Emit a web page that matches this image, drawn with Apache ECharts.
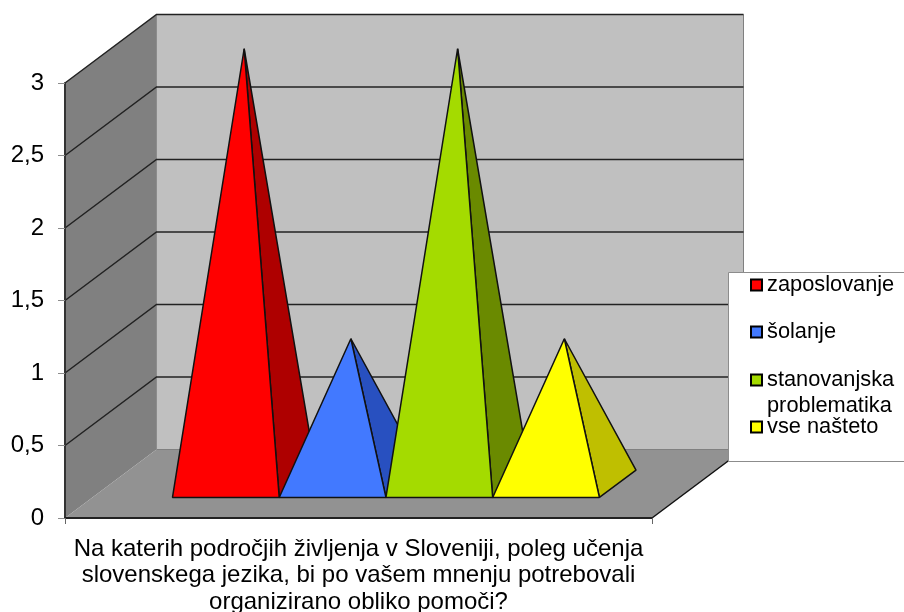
<!DOCTYPE html>
<html>
<head>
<meta charset="utf-8">
<style>html,body{margin:0;padding:0;background:#fff}#chart{width:904px;height:612px}</style>
<script src="https://cdn.jsdelivr.net/npm/echarts@6/dist/echarts.min.js"></script>
</head>
<body>
<div id="chart"></div>
<script>
// Chart content
const categories = ['Na katerih področjih življenja v Sloveniji, poleg učenja\nslovenskega jezika, bi po vašem mnenju potrebovali\norganizirano obliko pomoči?'];
const seriesNames = ['zaposlovanje', 'šolanje', 'stanovanjska problematika', 'vse našteto'];
const seriesValues = [3, 1, 3, 1];
const frontColors = ['#FF0000', '#4279FF', '#A4DB00', '#FFFF00'];
const sideColors = ['#AE0000', '#2850C0', '#6A8A00', '#BFBF00'];
const tickValues = [0.5, 1, 1.5, 2, 2.5, 3];
const legendTops = [272, 319, 341, 414];

// Oblique projection: screen offset of the full depth of the plot box
const DEPTH = [91.5, -68.5];
const GAP_RATIO = 1.5;
const PYRAMID_NEAR = 0.3;
const PYRAMID_FAR = 0.7;
const FONT = '"Liberation Sans", Arial, sans-serif';
const STROKE = '#111';

function shift(p, d) {
  return [p[0] + DEPTH[0] * d, p[1] + DEPTH[1] * d];
}

function plotEdges(api) {
  const origin = api.coord([0, 0]);
  const band = api.size([1, 0])[0];
  return { left: origin[0] - band / 2, right: origin[0] + band / 2, band };
}

function renderWalls(params, api) {
  const e = plotEdges(api);
  const y0 = api.coord([0, 0])[1];
  const yTop = api.coord([0, tickValues[tickValues.length - 1]])[1];
  const fl = [e.left, y0], fr = [e.right, y0], tl = [e.left, yTop];
  const bl = shift(fl, 1), br = shift(fr, 1), btl = shift(tl, 1), btr = [br[0], btl[1]];
  return {
    type: 'group',
    children: [
      { type: 'polygon', shape: { points: [bl, br, btr, btl] }, style: { fill: '#C0C0C0', stroke: 'none' } },
      { type: 'polygon', shape: { points: [fl, bl, btl, tl] }, style: { fill: '#808080', stroke: 'none' } },
      { type: 'polygon', shape: { points: [fl, fr, br, bl] }, style: { fill: '#929292', stroke: 'none' } },
      { type: 'polyline', shape: { points: [bl, btl] }, style: { fill: 'none', stroke: '#8c8c8c', lineWidth: 1 } },
      { type: 'polyline', shape: { points: [bl, br, btr] }, style: { fill: 'none', stroke: '#808080', lineWidth: 1 } },
      { type: 'polyline', shape: { points: [fr, br] }, style: { fill: 'none', stroke: STROKE, lineWidth: 1.5 } }
    ]
  };
}

function renderGridline(params, api) {
  const e = plotEdges(api);
  const front = [e.left, api.coord([0, api.value(0)])[1]];
  const back = shift(front, 1);
  return {
    type: 'polyline',
    shape: { points: [front, back, [e.right + DEPTH[0], back[1]]] },
    style: { fill: 'none', stroke: '#222', lineWidth: 1.5 }
  };
}

function pyramidRenderer(index) {
  return function (params, api) {
    const e = plotEdges(api);
    const barWidth = e.band / (seriesNames.length + GAP_RATIO);
    const x0 = e.left + barWidth * GAP_RATIO / 2 + barWidth * index;
    const y0 = api.coord([0, 0])[1];
    const yTop = api.coord([0, api.value(1)])[1];
    const nearL = shift([x0, y0], PYRAMID_NEAR);
    const nearR = shift([x0 + barWidth, y0], PYRAMID_NEAR);
    const farR = shift([x0 + barWidth, y0], PYRAMID_FAR);
    const apex = shift([x0 + barWidth / 2, yTop], (PYRAMID_NEAR + PYRAMID_FAR) / 2);
    const edge = { stroke: STROKE, lineWidth: 1.5, lineJoin: 'bevel' };
    return {
      type: 'group',
      children: [
        { type: 'polygon', shape: { points: [nearR, farR, apex] }, style: Object.assign({ fill: sideColors[index] }, edge) },
        { type: 'polygon', shape: { points: [nearL, nearR, apex] }, style: Object.assign({ fill: frontColors[index] }, edge) }
      ]
    };
  };
}

const chart = echarts.init(document.getElementById('chart'), null, { renderer: 'canvas' });

chart.setOption({
  animation: false,
  backgroundColor: '#fff',
  grid: { left: 65, top: 83, width: 587, height: 435, outerBoundsMode: 'none' },
  xAxis: {
    type: 'category',
    data: categories,
    z: 5,
    axisLine: { lineStyle: { color: '#222', width: 2 } },
    axisTick: { show: true, length: 6, lineStyle: { color: '#666', width: 1 } },
    axisLabel: { color: '#000', fontFamily: FONT, fontSize: 24, lineHeight: 26.5, margin: 18, interval: 0 }
  },
  yAxis: {
    type: 'value',
    min: 0,
    max: 3,
    interval: 0.5,
    z: 5,
    splitLine: { show: false },
    axisLine: { show: true, lineStyle: { color: '#333', width: 2 } },
    axisTick: { show: true, length: 7, lineStyle: { color: '#8c8c8c', width: 1 } },
    axisLabel: {
      color: '#000', fontFamily: FONT, fontSize: 24, margin: 21, padding: [5, 0, 0, 0],
      formatter: v => String(v).replace('.', ',')
    }
  },
  legend: seriesNames.map((name, i) => ({
    data: [name],
    left: 750,
    top: legendTops[i],
    padding: 0,
    z: 60,
    selectedMode: false,
    icon: 'rect',
    itemWidth: 11,
    itemHeight: 11,
    itemStyle: { borderColor: '#000', borderWidth: 2 },
    textStyle: { color: '#000', fontFamily: FONT, fontSize: 21.8, lineHeight: 26 },
    formatter: n => n.indexOf(' ') > 0 && n.indexOf('stan') === 0 ? '\n' + n.replace(' ', '\n') : n
  })),
  graphic: [{
    type: 'rect',
    z: 50,
    silent: true,
    shape: { x: 728.5, y: 272.5, width: 190, height: 189 },
    style: { fill: '#fff', stroke: '#8c8c8c', lineWidth: 1 }
  }],
  series: [
    { type: 'custom', name: 'stene', silent: true, coordinateSystem: 'cartesian2d', renderItem: renderWalls, data: [[0, 0]] },
    { type: 'custom', name: 'mreža', silent: true, coordinateSystem: 'cartesian2d', renderItem: renderGridline, encode: { y: 0 }, data: tickValues.map(v => [v]) }
  ].concat(seriesNames.map((name, i) => ({
    type: 'custom',
    name: name,
    silent: true,
    coordinateSystem: 'cartesian2d',
    renderItem: pyramidRenderer(i),
    itemStyle: { color: frontColors[i] },
    encode: { x: 0, y: 1 },
    data: [[0, seriesValues[i]]]
  })))
});
</script>
</body>
</html>
